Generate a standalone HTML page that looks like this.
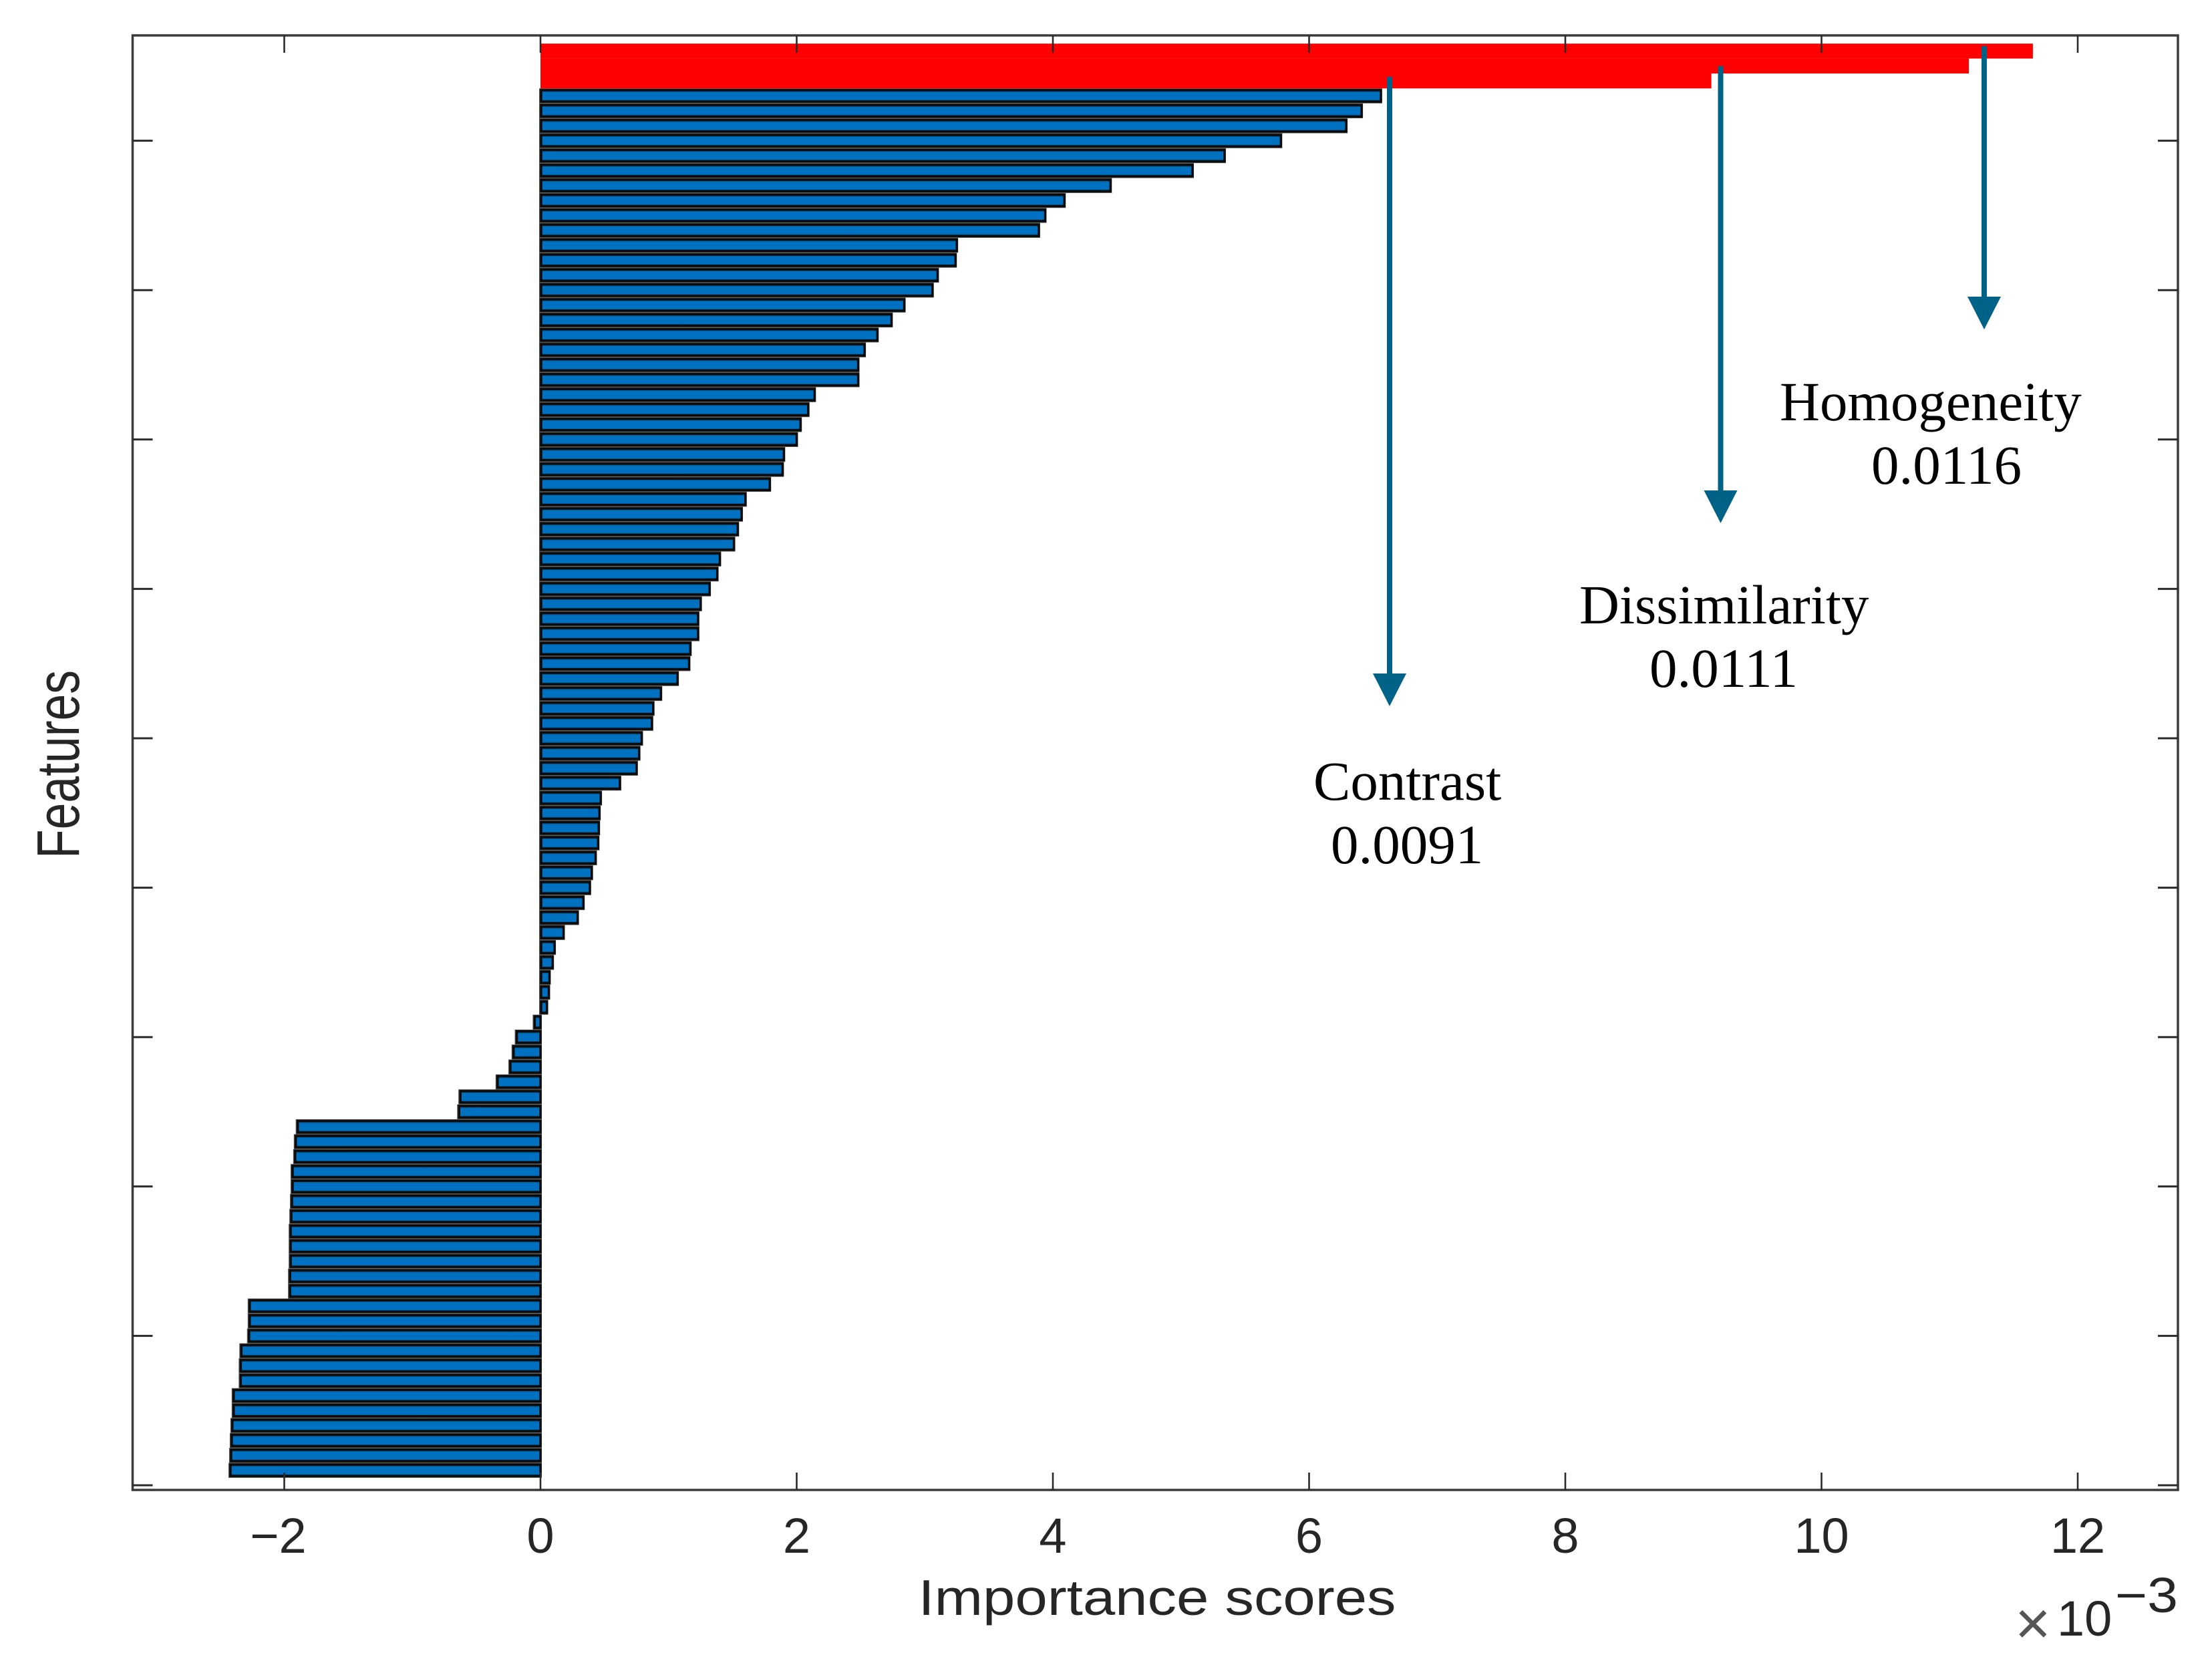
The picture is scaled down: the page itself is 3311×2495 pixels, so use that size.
<!DOCTYPE html>
<html lang="en">
<head>
<meta charset="utf-8">
<title>Feature importance scores</title>
<style>
html,body{margin:0;padding:0;background:#fff;width:3311px;height:2495px;overflow:hidden}
svg{display:block}
.sans{font-family:"Liberation Sans",Arial,sans-serif;fill:#262626}
.serif{font-family:"Liberation Serif","Times New Roman",serif;fill:#000;font-size:83px}
</style>
</head>
<body>
<svg id="chart" xmlns="http://www.w3.org/2000/svg" width="3311" height="2495" viewBox="0 0 3311 2495">
  <defs>
    <linearGradient id="barFill" x1="0" y1="0" x2="0" y2="1">
      <stop offset="0" stop-color="#004f86"/>
      <stop offset="0.16" stop-color="#005f9f"/>
      <stop offset="0.2" stop-color="#0070c0"/>
      <stop offset="0.82" stop-color="#0070c0"/>
      <stop offset="0.86" stop-color="#005f9f"/>
      <stop offset="1" stop-color="#004f86"/>
    </linearGradient>
  </defs>
  <rect x="0" y="0" width="3311" height="2495" fill="#ffffff"/>
  <g id="bars"></g>
  <g id="axes"></g>

  <text class="sans" x="1732" y="2417" font-size="75" text-anchor="middle" textLength="715" lengthAdjust="spacingAndGlyphs">Importance scores</text>
  <text class="sans" transform="translate(118,1144) rotate(-90)" font-size="90" text-anchor="middle" textLength="282" lengthAdjust="spacingAndGlyphs">Features</text>
  <g>
    <text class="sans" x="3016" y="2461" font-size="92" style="fill:#555">×</text>
    <text class="sans" x="3079" y="2448" font-size="74">10</text>
    <text class="sans" x="3166" y="2413" font-size="74" textLength="94" lengthAdjust="spacingAndGlyphs">−3</text>
  </g>

  <g id="annotations">
    <g fill="#006286">
      <rect x="2076" y="115" width="8" height="900"/>
      <polygon points="2055,1008 2105,1008 2080,1057"/>
    </g>
    <g fill="#006286">
      <rect x="2571.5" y="99" width="8" height="640"/>
      <polygon points="2550.5,734 2600.5,734 2575.5,783"/>
    </g>
    <g fill="#006286">
      <rect x="2966" y="69" width="8" height="380"/>
      <polygon points="2945,444 2995,444 2970,493"/>
    </g>
    <text class="serif" x="2664" y="629">Homogeneity</text>
    <text class="serif" x="2801" y="724">0.0116</text>
    <text class="serif" x="2364" y="933">Dissimilarity</text>
    <text class="serif" x="2469" y="1028">0.0111</text>
    <text class="serif" x="1966" y="1197">Contrast</text>
    <text class="serif" x="1992" y="1292">0.0091</text>
  </g>
</svg>
<script>
// Importance scores (x 10^-3), sorted descending; first entries are the highlighted features.
var highlightedValues = [11.65, 11.15, 9.14];
var positiveValues = [6.56, 6.41, 6.29, 5.78, 5.34, 5.09, 4.45, 4.09, 3.94, 3.89,
  3.25, 3.24, 3.10, 3.06, 2.84, 2.74, 2.63, 2.53, 2.48, 2.48,
  2.14, 2.09, 2.03, 2.00, 1.90, 1.89, 1.79, 1.60, 1.57, 1.54,
  1.51, 1.40, 1.38, 1.32, 1.25, 1.23, 1.23, 1.17, 1.16, 1.07,
  0.94, 0.88, 0.87, 0.79, 0.77, 0.75, 0.62, 0.47, 0.46, 0.455,
  0.45, 0.43, 0.40, 0.385, 0.335, 0.29, 0.18, 0.11, 0.095, 0.07,
  0.065, 0.05];
var negativeValues = [-0.05, -0.19, -0.215, -0.24, -0.34, -0.63, -0.64, -1.90, -1.915, -1.92,
  -1.94, -1.94, -1.945, -1.95, -1.955, -1.955, -1.955, -1.96, -1.96, -2.275,
  -2.275, -2.28, -2.34, -2.345, -2.345, -2.40, -2.40, -2.41, -2.415, -2.42,
  -2.425];
var xTickValues = [-2, 0, 2, 4, 6, 8, 10, 12];
var xTickLabels = ['−2', '0', '2', '4', '6', '8', '10', '12'];
var yTickValues = [0, 10, 20, 30, 40, 50, 60, 70, 80, 90];

var SVGNS = 'http://www.w3.org/2000/svg';
var plot = {left: 198.5, right: 3260, top: 53, bottom: 2230};

function xScale(v) { return 809 + 191.75 * v; }
function yScale(n) { return 2223 - 22.36 * n; }

function shape(tag, attrs, parent) {
  var el = document.createElementNS(SVGNS, tag);
  for (var k in attrs) { el.setAttribute(k, attrs[k]); }
  parent.appendChild(el);
  return el;
}

var barsLayer = document.getElementById('bars');
var axesLayer = document.getElementById('axes');
var blueValues = positiveValues.concat(negativeValues);
var totalBars = highlightedValues.length + blueValues.length;
var pitch = Math.abs(yScale(1) - yScale(0));

blueValues.forEach(function (v, i) {
  var cy = yScale(totalBars - highlightedValues.length - i);
  var x0 = Math.min(xScale(0), xScale(v));
  var x1 = Math.max(xScale(0), xScale(v));
  var halo = shape('rect', {x: x0 - 2, y: cy - pitch / 2, width: x1 - x0 + 4, height: pitch, fill: '#4a4a4a'}, barsLayer);
  
  
  var bar = shape('rect', {x: x0 + 1, y: cy - 8.5, width: x1 - x0 - 1, height: 17, fill: 'url(#barFill)', stroke: '#0b0b0b', 'stroke-width': 3.4}, barsLayer);
  
  
});

highlightedValues.forEach(function (v, i) {
  var cy = yScale(totalBars - i);
  var bar = shape('rect', {x: xScale(0), y: cy - 11.18, width: xScale(v) - xScale(0), height: 22.36, fill: '#ff0000'}, barsLayer);
  
  
});

var axisColor = '#3a3a3a';

var frame = shape('rect', {x: plot.left, y: plot.top, width: plot.right - plot.left, height: plot.bottom - plot.top, fill: 'none', stroke: axisColor, 'stroke-width': 3.5}, axesLayer);



xTickValues.forEach(function (v, i) {
  var x = xScale(v);
  var bottomTick = shape('line', {x1: x, x2: x, y1: plot.bottom, y2: plot.bottom - 26, stroke: '#2a2a2a', 'stroke-width': 2.6}, axesLayer);
  
  
  var topTick = shape('line', {x1: x, x2: x, y1: plot.top, y2: plot.top + 26, stroke: '#2a2a2a', 'stroke-width': 2.6}, axesLayer);
  
  
  var label = shape('text', {x: v < 0 ? x - 9 : x, y: 2324, 'font-size': 74, 'text-anchor': 'middle', 'class': 'sans'}, axesLayer);
  label.textContent = xTickLabels[i];
  
  
});

yTickValues.forEach(function (n) {
  var y = yScale(n);
  var leftTick = shape('line', {x1: plot.left, x2: plot.left + 30, y1: y, y2: y, stroke: '#2a2a2a', 'stroke-width': 3}, axesLayer);
  
  
  var rightTick = shape('line', {x1: plot.right, x2: plot.right - 30, y1: y, y2: y, stroke: '#2a2a2a', 'stroke-width': 3}, axesLayer);
  
  
});
</script>
</body>
</html>
